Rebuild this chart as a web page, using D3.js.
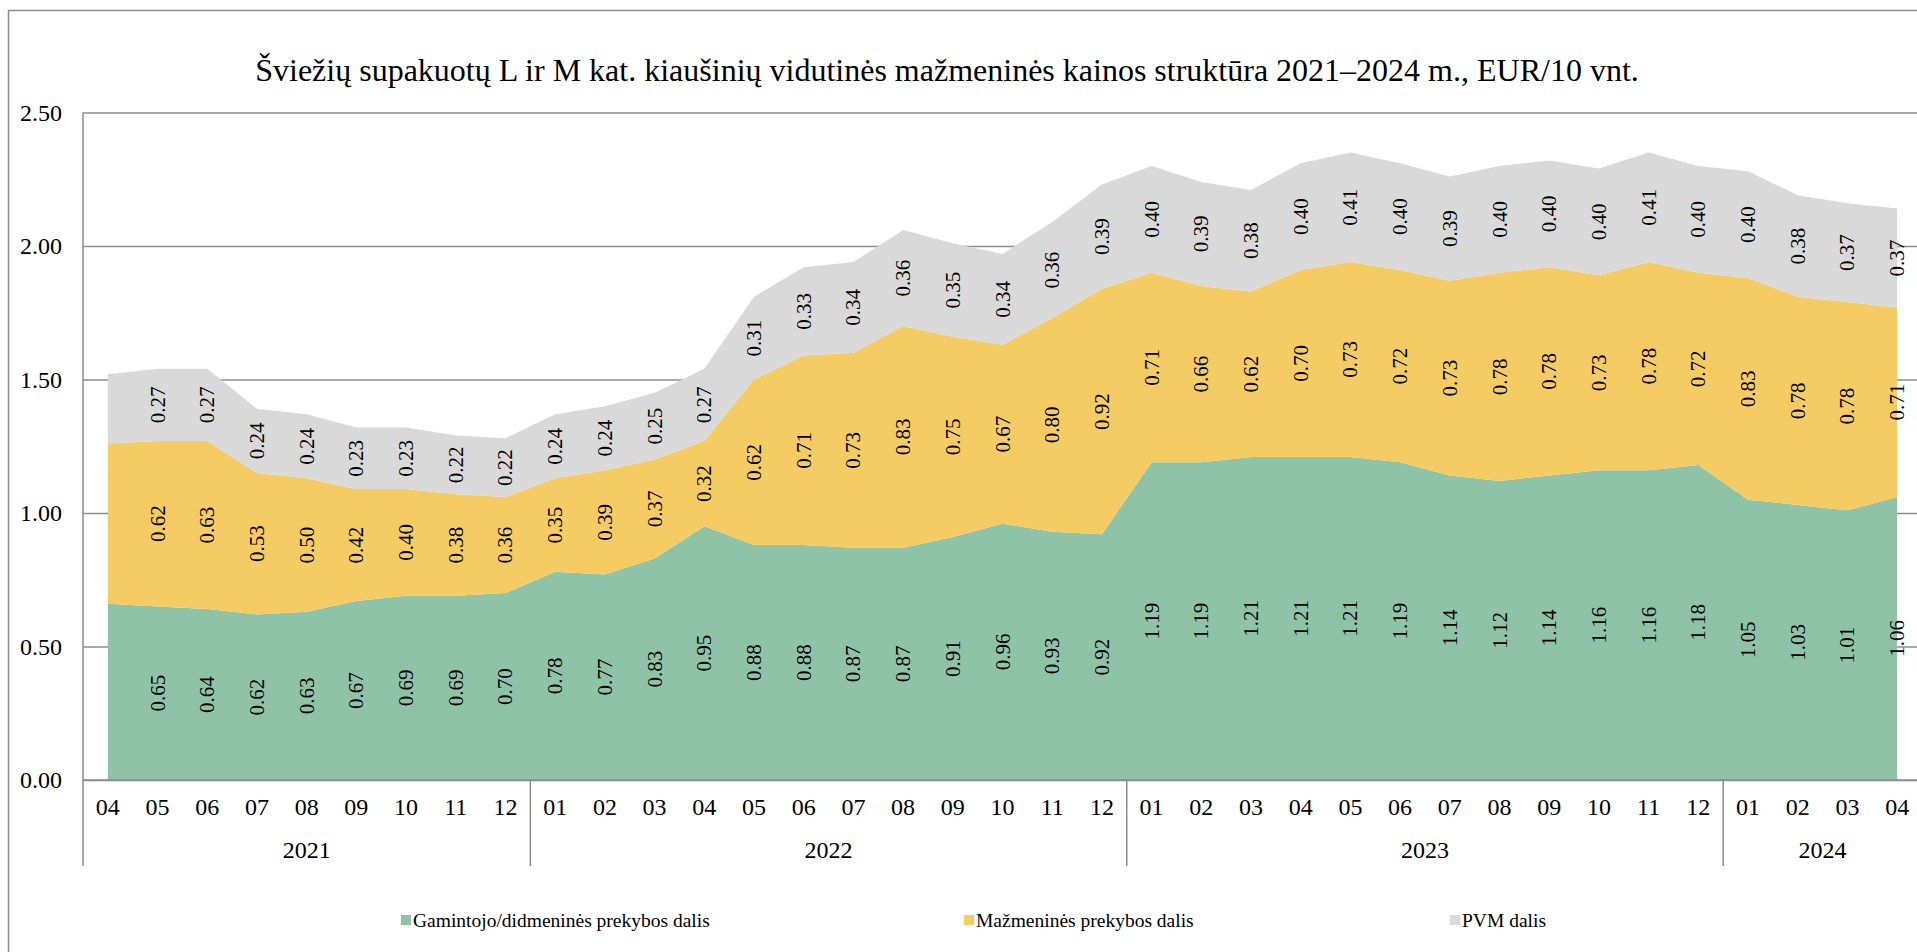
<!DOCTYPE html>
<html lang="lt">
<head>
    <meta charset="UTF-8">
    <title>Kiaušinių kainos struktūra</title>
    <script src="https://cdnjs.cloudflare.com/ajax/libs/d3/7.8.5/d3.min.js"></script>
    <style>
        body {
            margin: 0;
            background: #fff;
        }
        #chart, #chart text {
            font-family: "Liberation Serif", "Times New Roman", serif !important;
            fill: #000;
        }
    </style>
</head>
<body>
    <svg id="chart" width="1917" height="952"></svg>

    <script>
        // Periods (year-month)
        const periods = [
            "2021-04", "2021-05", "2021-06", "2021-07", "2021-08", "2021-09", "2021-10", "2021-11", "2021-12",
            "2022-01", "2022-02", "2022-03", "2022-04", "2022-05", "2022-06", "2022-07", "2022-08", "2022-09", "2022-10", "2022-11", "2022-12",
            "2023-01", "2023-02", "2023-03", "2023-04", "2023-05", "2023-06", "2023-07", "2023-08", "2023-09", "2023-10", "2023-11", "2023-12",
            "2024-01", "2024-02", "2024-03", "2024-04"
        ];

        // EUR/10 vnt.
        const producerShare = [0.66, 0.65, 0.64, 0.62, 0.63, 0.67, 0.69, 0.69, 0.70,
            0.78, 0.77, 0.83, 0.95, 0.88, 0.88, 0.87, 0.87, 0.91, 0.96, 0.93, 0.92,
            1.19, 1.19, 1.21, 1.21, 1.21, 1.19, 1.14, 1.12, 1.14, 1.16, 1.16, 1.18,
            1.05, 1.03, 1.01, 1.06];
        const retailShare = [0.60, 0.62, 0.63, 0.53, 0.50, 0.42, 0.40, 0.38, 0.36,
            0.35, 0.39, 0.37, 0.32, 0.62, 0.71, 0.73, 0.83, 0.75, 0.67, 0.80, 0.92,
            0.71, 0.66, 0.62, 0.70, 0.73, 0.72, 0.73, 0.78, 0.78, 0.73, 0.78, 0.72,
            0.83, 0.78, 0.78, 0.71];
        const vatShare = [0.26, 0.27, 0.27, 0.24, 0.24, 0.23, 0.23, 0.22, 0.22,
            0.24, 0.24, 0.25, 0.27, 0.31, 0.33, 0.34, 0.36, 0.35, 0.34, 0.36, 0.39,
            0.40, 0.39, 0.38, 0.40, 0.41, 0.40, 0.39, 0.40, 0.40, 0.40, 0.41, 0.40,
            0.40, 0.38, 0.37, 0.37];

        const seriesNames = ["Gamintojo/didmeninės prekybos dalis", "Mažmeninės prekybos dalis", "PVM dalis"];
        const seriesColors = ["#8ec3a8", "#f5cb64", "#d9d9d9"];
        const yTicks = [0, 0.5, 1, 1.5, 2, 2.5];

        const title = "Šviežių supakuotų L ir M kat. kiaušinių vidutinės mažmeninės kainos struktūra 2021–2024 m., EUR/10 vnt.";

        const serif = "Liberation Serif, Times New Roman, serif";
        const svg = d3.select("#chart").attr("font-family", serif);
        const lineColor = "#8c8c8c";

        // plot area (runs a little past the right edge of the window, like the original)
        const plotLeft = 83, plotRight = 1922, plotTop = 112.5, plotBottom = 780;

        const rows = periods.map((p, i) => ({
            period: p,
            year: p.slice(0, 4),
            month: p.slice(5),
            producer: producerShare[i],
            retail: retailShare[i],
            vat: vatShare[i]
        }));

        const x = d3.scaleBand()
            .domain(periods)
            .range([plotLeft, plotRight]);
        const cx = p => x(p) + x.bandwidth() / 2;

        const y = d3.scaleLinear()
            .domain([0, 2.5])
            .range([plotBottom, plotTop]);

        // outer frame
        svg.append("path")
            .attr("d", "M8.5,952 V10.5 H1917")
            .attr("fill", "none")
            .attr("stroke", lineColor)
            .attr("stroke-width", 1.5);

        // title
        svg.append("text")
            .attr("x", 947)
            .attr("y", 81)
            .attr("text-anchor", "middle")
            .attr("font-family", serif)
            .attr("font-size", 32)
            .text(title);

        // y axis + gridlines
        const yAxis = svg.append("g")
            .attr("transform", `translate(${plotLeft},0)`)
            .call(d3.axisLeft(y)
                .tickValues(yTicks)
                .tickFormat(d3.format(".2f"))
                .tickSize(-(plotRight - plotLeft))
                .tickPadding(21));
        yAxis.attr("font-family", serif).attr("font-size", 24);
        yAxis.select(".domain").remove();
        yAxis.selectAll(".tick line")
            .attr("stroke", lineColor)
            .attr("stroke-width", 1.5);

        // stacked areas
        const stack = d3.stack().keys(["producer", "retail", "vat"]);
        const layers = stack(rows);

        const area = d3.area()
            .x(d => cx(d.data.period))
            .y0(d => y(d[0]))
            .y1(d => y(d[1]));

        svg.append("g")
            .selectAll("path")
            .data(layers)
            .join("path")
            .attr("fill", (d, i) => seriesColors[i])
            .attr("d", area);

        // left axis line
        svg.append("line")
            .attr("x1", plotLeft).attr("x2", plotLeft)
            .attr("y1", plotTop).attr("y2", 866)
            .attr("stroke", lineColor).attr("stroke-width", 1.5);

        // x axis line
        svg.append("line")
            .attr("x1", plotLeft).attr("x2", 1917)
            .attr("y1", plotBottom).attr("y2", plotBottom)
            .attr("stroke", lineColor).attr("stroke-width", 1.5);

        // data labels (the first month has none in the original)
        const labels = svg.append("g")
            .attr("font-family", serif)
            .attr("font-size", 21);
        layers.forEach(layer => {
            layer.forEach((d, i) => {
                if (i === 0) return;
                const px = cx(d.data.period);
                const py = y((d[0] + d[1]) / 2);
                labels.append("text")
                    .attr("transform", `translate(${px + 7},${py}) rotate(-90)`)
                    .attr("text-anchor", "middle")
                    .text(d3.format(".2f")(d[1] - d[0]));
            });
        });

        // month labels
        svg.append("g")
            .attr("font-family", serif)
            .attr("font-size", 24)
            .selectAll("text")
            .data(rows)
            .join("text")
            .attr("x", d => cx(d.period))
            .attr("y", 815)
            .attr("text-anchor", "middle")
            .text(d => d.month);

        // year groups
        const years = d3.groups(rows, d => d.year);
        years.forEach(([year, items]) => {
            const x0 = x(items[0].period);
            const x1 = x(items[items.length - 1].period) + x.bandwidth();
            svg.append("text")
                .attr("x", (x0 + x1) / 2)
                .attr("y", 858)
                .attr("text-anchor", "middle")
                .attr("font-family", serif)
                .attr("font-size", 24)
                .text(year);
            svg.append("line")
                .attr("x1", x1).attr("x2", x1)
                .attr("y1", plotBottom).attr("y2", 866)
                .attr("stroke", lineColor).attr("stroke-width", 1.5);
        });

        // legend
        const legendX = [401, 964, 1450];
        const legend = svg.append("g")
            .attr("font-family", serif)
            .attr("font-size", 19.5);
        seriesNames.forEach((name, i) => {
            legend.append("rect")
                .attr("x", legendX[i])
                .attr("y", 915)
                .attr("width", 10)
                .attr("height", 10)
                .attr("fill", seriesColors[i]);
            legend.append("text")
                .attr("x", legendX[i] + 12)
                .attr("y", 927)
                .text(name);
        });
    </script>
</body>
</html>
